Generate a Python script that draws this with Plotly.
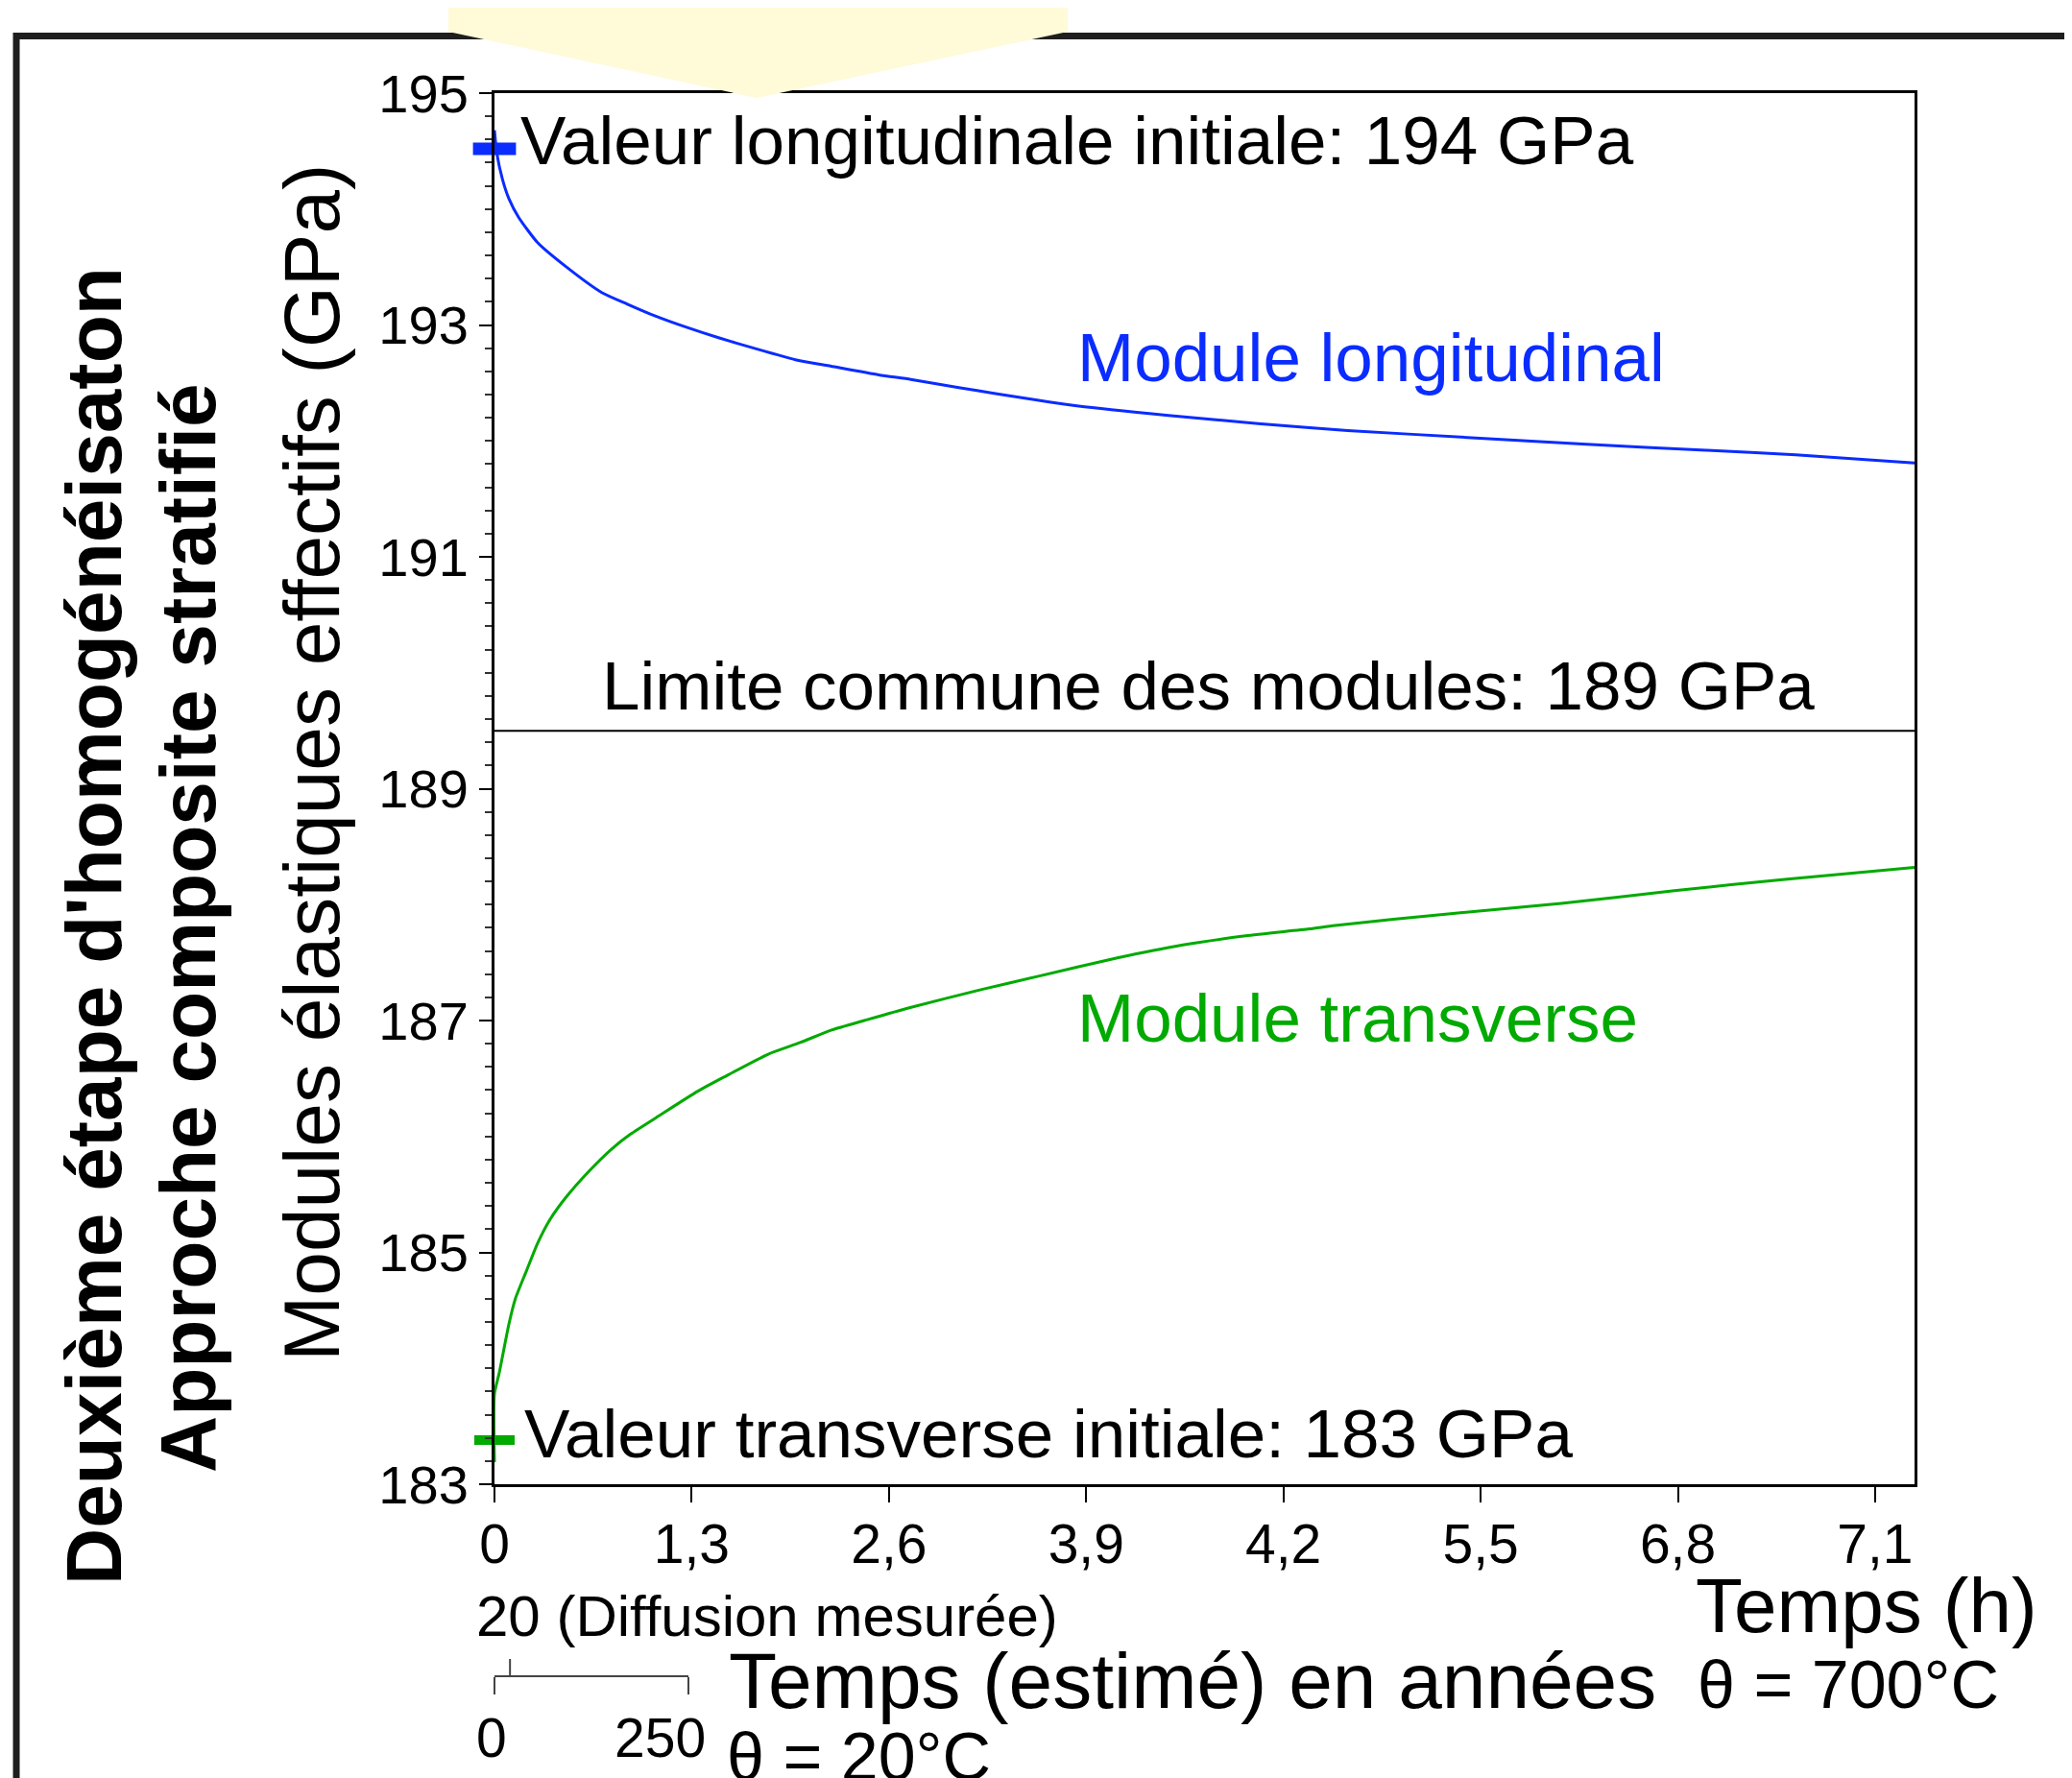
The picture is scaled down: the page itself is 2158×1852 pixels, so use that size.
import plotly.graph_objects as go

# ---------------- data ----------------
X_TICKVALS = [0, 1, 2, 3, 4, 5, 6, 7]
X_TICKTEXT = ["0", "1,3", "2,6", "3,9", "4,2", "5,5", "6,8", "7,1"]
X_RANGE = [0, 7.2]
Y_RANGE = [183, 195]

BLUE_T = [0, 0.012, 0.040, 0.073, 0.122, 0.219, 0.365, 0.544, 0.674, 0.812, 0.974,
          1.136, 1.315, 1.526, 1.689, 1.948, 2.111, 2.354, 2.533, 2.963, 3.417, 3.872,
          4.326, 4.932, 5.538, 6.144, 6.598, 7.2]
BLUE_E = [194.68, 194.48, 194.26, 194.09, 193.93, 193.71, 193.50, 193.28, 193.18, 193.08, 192.98,
          192.89, 192.80, 192.70, 192.65, 192.57, 192.53, 192.46, 192.41, 192.30, 192.22, 192.15,
          192.09, 192.03, 191.97, 191.92, 191.88, 191.81]

GREEN_T = [0, 0, 0.024, 0.073, 0.106, 0.162, 0.219, 0.284, 0.365, 0.479, 0.593, 0.690,
           0.836, 1.031, 1.161, 1.388, 1.550, 1.713, 1.875, 2.103, 2.476, 2.752, 3.158,
           3.483, 3.808, 4.132, 4.262, 4.835, 5.409, 5.982, 6.555, 7.2]
GREEN_E = [183.19, 183.78, 183.96, 184.38, 184.60, 184.84, 185.08, 185.29, 185.48, 185.70, 185.89, 186.02,
           186.18, 186.39, 186.51, 186.71, 186.81, 186.92, 187.00, 187.11, 187.27, 187.38, 187.54,
           187.65, 187.73, 187.79, 187.82, 187.92, 188.01, 188.12, 188.22, 188.32]

INIT_T = [0]
LONG_INIT = [194.52]
TRANS_INIT = [183.38]
LIMIT_T = [0, 7.2]
LIMIT_E = [189.5, 189.5]

SCALE_RANGE = [0, 250]
SCALE_TICKS = [0, 250]
SCALE_LABELS = ["0", "250"]
SCALE_MARK = 20

# ---------------- styling ----------------
OFF = 8  # default page body margin
W, H = 2150, 1844
ML, MR, MT = 515 - OFF, 164, 97 - OFF
PW = W - ML - MR
PAPER_BOTTOM = 1760 - OFF
MB = H - PAPER_BOTTOM
PH = PAPER_BOTTOM - MT
FONT = "Liberation Sans, Arial, Helvetica, sans-serif"
BLUE = "#0a2cff"
GREEN = "#00aa00"


def px(X):
    return (X - OFF - ML) / PW


def py(Y):
    return (PAPER_BOTTOM - (Y - OFF)) / PH


fig = go.Figure()

fig.add_trace(go.Scatter(x=LIMIT_T, y=LIMIT_E, mode="lines",
                         line=dict(color="black", width=2), hoverinfo="skip"))
fig.add_trace(go.Scatter(x=BLUE_T, y=BLUE_E, mode="lines",
                         line=dict(color=BLUE, width=3, shape="spline", smoothing=0.6)))
fig.add_trace(go.Scatter(x=GREEN_T, y=GREEN_E, mode="lines",
                         line=dict(color=GREEN, width=3, shape="spline", smoothing=0.6)))
fig.add_trace(go.Scatter(x=INIT_T, y=LONG_INIT, mode="markers", cliponaxis=False,
                         marker=dict(symbol="line-ew", size=32,
                                     line=dict(width=13, color=BLUE))))
fig.add_trace(go.Scatter(x=INIT_T, y=TRANS_INIT, mode="markers", cliponaxis=False,
                         marker=dict(symbol="line-ew", size=30,
                                     line=dict(width=10, color=GREEN))))
# invisible trace for the secondary (years) scale
fig.add_trace(go.Scatter(x=SCALE_RANGE, y=[None, None], xaxis="x2", yaxis="y2",
                         mode="lines", hoverinfo="skip"))

y_dom0 = py(1546)
fig.update_layout(
    width=W, height=H,
    margin=dict(l=ML, r=MR, t=MT, b=MB, pad=0),
    paper_bgcolor="white", plot_bgcolor="white",
    showlegend=False,
    font=dict(family=FONT, color="black"),
    xaxis=dict(range=X_RANGE, tickvals=X_TICKVALS, ticktext=X_TICKTEXT,
               ticks="outside", ticklen=16, tickwidth=2, tickcolor="black",
               showline=True, linewidth=3, linecolor="black", mirror=True,
               showgrid=False, zeroline=False, tickfont=dict(size=57),
               ticklabelstandoff=-5, anchor="y"),
    yaxis=dict(range=Y_RANGE, domain=[y_dom0, 1], tick0=183, dtick=2,
               ticks="outside", ticklen=13, tickwidth=2, tickcolor="black",
               minor=dict(dtick=0.2, tick0=183, ticks="outside", ticklen=7,
                          tickwidth=2, tickcolor="#333"),
               showline=True, linewidth=3, linecolor="black", mirror=True,
               showgrid=False, zeroline=False, tickfont=dict(size=56),
               ticklabelstandoff=0, anchor="x"),
    xaxis2=dict(range=SCALE_RANGE, tickvals=SCALE_TICKS, domain=[0, px(717)],
                anchor="y2", ticks="outside", ticklen=18, tickwidth=2,
                tickcolor="#444", showline=True, linewidth=2, linecolor="#444",
                showgrid=False, zeroline=False, showticklabels=False),
    yaxis2=dict(domain=[py(1745), py(1745) + 0.02], visible=False, range=[0, 1],
                anchor="x2"),
)

shapes = []
# outer frame (thick dark border, left and top)
shapes.append(dict(type="rect", xref="paper", yref="paper",
                   x0=px(17), x1=px(2400), y0=py(37.5), y1=py(2100),
                   line=dict(color="#1e1e1e", width=7), fillcolor="rgba(0,0,0,0)",
                   layer="above"))
# yellow arrow-shaped tab at top
path = "M {a},{b} L {c},{b} L {c},{d} L {e},{f} L {a},{d} Z".format(
    a=px(467), b=py(-5), c=px(1112), d=py(33), e=px(788), f=py(102))
shapes.append(dict(type="path", xref="paper", yref="paper", path=path,
                   fillcolor="#fffad8", line=dict(width=0), layer="above"))
# upward tick on the years scale marking the measured diffusion time
shapes.append(dict(type="line", xref="x2", yref="paper",
                   x0=SCALE_MARK, x1=SCALE_MARK, y0=py(1745), y1=py(1728),
                   line=dict(color="#444", width=2)))
fig.update_layout(shapes=shapes)


def ann(text, X, Y, size, color="black", xanchor="left", angle=0):
    fig.add_annotation(text=text, x=px(X), y=py(Y), xref="paper", yref="paper",
                       showarrow=False, xanchor=xanchor, yanchor="middle",
                       textangle=angle, align="left",
                       font=dict(size=size, color=color, family=FONT))


ann("Valeur longitudinale initiale: 194 GPa", 540, 147, 71)
ann("Module longitudinal", 1120, 373, 71, BLUE)
ann("Limite commune des modules: 189 GPa", 625, 714, 71)
ann("Module transverse", 1120, 1060, 71, GREEN)
ann("Valeur transverse initiale: 183 GPa", 544, 1493, 71)
ann("20 (Diffusion mesurée)", 494, 1683, 60)
ann(SCALE_LABELS[0], 512, 1810, 57, xanchor="center")
ann(SCALE_LABELS[1], 687, 1810, 57, xanchor="center")
ann("Temps (estimé) en années", 757, 1750, 82)
ann("θ = 20°C", 755, 1830, 70)
ann("Temps (h)", 1764, 1672, 80)
ann("θ = 700°C", 1766, 1755, 70)
ann("<b>Deuxième étape d'homogénéisaton</b>", 97, 965, 82, xanchor="center", angle=-90)
ann("<b>Approche composite stratifié</b>", 195, 967, 82, xanchor="center", angle=-90)
ann("Modules élastiques effectifs (GPa)", 325, 795, 82, xanchor="center", angle=-90)

fig.write_html("out.html")
